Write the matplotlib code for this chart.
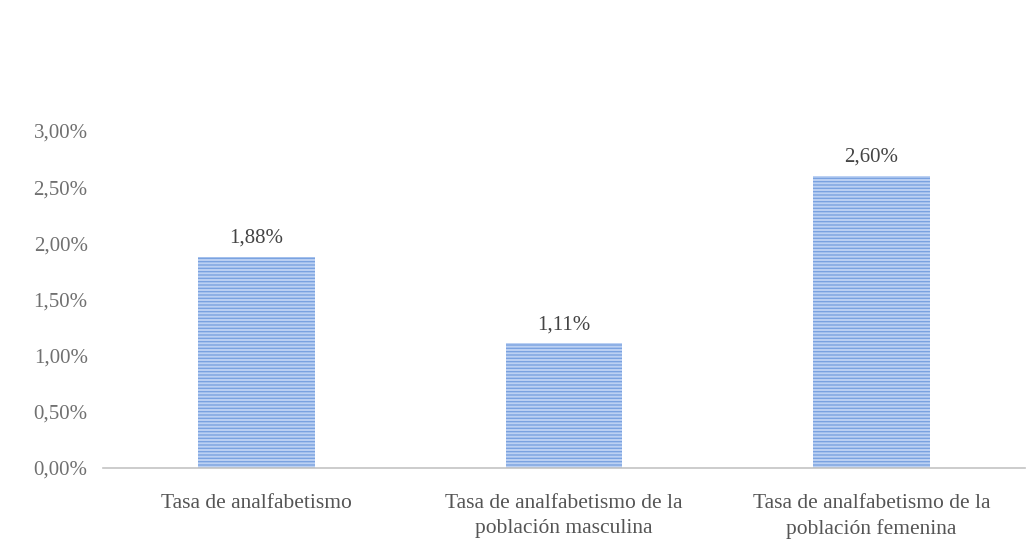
import matplotlib
matplotlib.use("Agg")
import matplotlib.pyplot as plt
from matplotlib.ticker import FuncFormatter

categories = ["Tasa de analfabetismo",
              "Tasa de analfabetismo de la\npoblación masculina",
              "Tasa de analfabetismo de la\npoblación femenina"]
values = [1.88, 1.11, 2.60]
value_labels = ["1,88%", "1,11%", "2,60%"]
yticks = [0.0, 0.5, 1.0, 1.5, 2.0, 2.5, 3.0]

plt.rcParams['font.family'] = ['Liberation Serif', 'DejaVu Serif']
plt.rcParams['hatch.linewidth'] = 1.0
plt.rcParams['hatch.color'] = '#7aa2e0'

fig = plt.figure(figsize=(10.31, 5.51), dpi=100)
ax = fig.add_axes([103/1031, 1-468/551, (1025-103)/1031, (468-131)/551])

x = list(range(len(categories)))
bars = ax.bar(x, values, width=0.38, color='#bcd1f3', edgecolor='#7aa2e0',
              linewidth=0, hatch='-----', zorder=2)
for xi, v, lab in zip(x, values, value_labels):
    ax.text(xi, v + 0.08, lab, ha='center', va='bottom', fontsize=15, color='#444444')

ax.set_xlim(-0.5, 2.5)
ax.set_ylim(0, 3.0)
ax.set_yticks(yticks)
ax.yaxis.set_major_formatter(FuncFormatter(lambda v, p: f"{v:.2f}".replace('.', ',') + '%'))
ax.set_xticks(x)
ax.set_xticklabels(categories, fontsize=15.5, color='#555555', linespacing=1.4)
ax.tick_params(axis='y', labelsize=15, labelcolor='#707070', length=0, pad=11)
ax.tick_params(axis='x', length=0, pad=19)
for s in ['top', 'right', 'left']:
    ax.spines[s].set_visible(False)
ax.spines['bottom'].set_color('#c4c4c4')
ax.spines['bottom'].set_linewidth(1.2)

fig.savefig("out.png", dpi=100)
